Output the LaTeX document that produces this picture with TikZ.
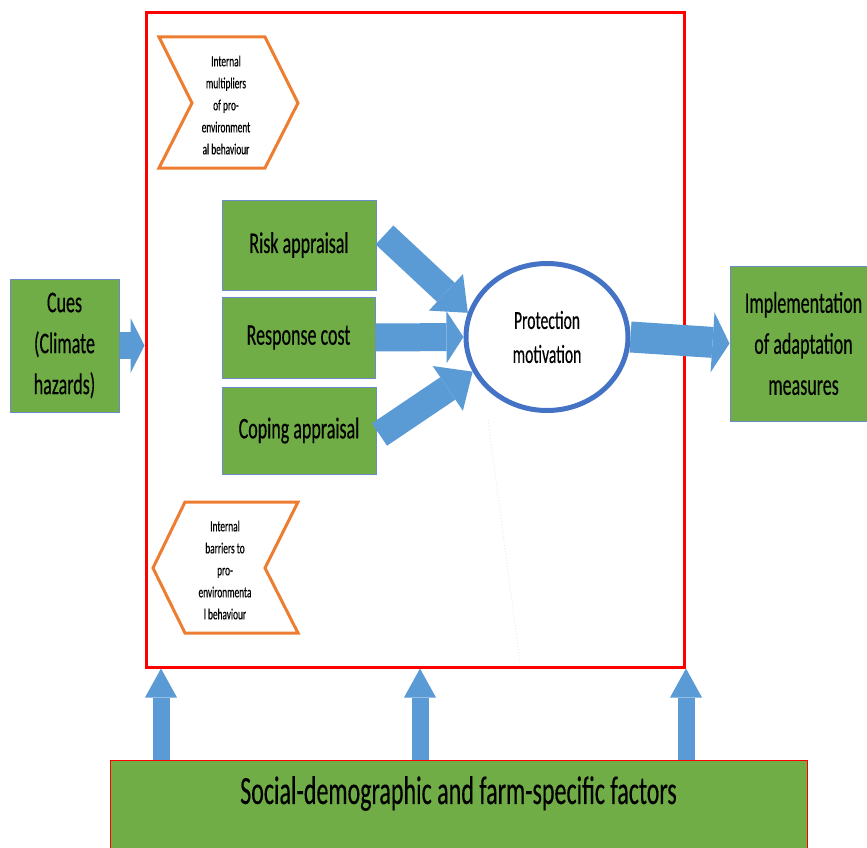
\documentclass[tikz,border=0pt]{standalone}
\usepackage{fontspec}
\setmainfont{Carlito}[FakeStretch=0.6,FakeBold=0.3]
\usetikzlibrary{
  arrows.meta,
  positioning,
  shapes.geometric,
  calc
}
\definecolor{boxgreen}{HTML}{70AD47}
\definecolor{boxedge}{HTML}{6A8CC8}
\definecolor{arrowblue}{HTML}{5B9BD5}
\definecolor{ringblue}{HTML}{4472C4}
\definecolor{chevorange}{HTML}{ED7D31}
\definecolor{framered}{HTML}{FF0000}

\begin{document}
\begin{tikzpicture}[
  x=1pt,
  y=-1pt,
  factor/.style={
    draw=boxedge,
    line width=1pt,
    fill=boxgreen,
    align=center,
    inner sep=0pt,
    font=\fontsize{30}{41}\selectfont
  },
  frame/.style={
    draw=framered,
    line width=3pt,
    inner sep=0pt,
    minimum width=538pt,
    minimum height=654pt
  },
  chevron/.style={
    draw=chevorange,
    line width=3pt,
    fill=white
  },
  smallnote/.style={
    align=center,
    inner sep=0pt,
    font=\fontsize{15.5}{22}\selectfont
  },
  motive/.style={
    ellipse,
    draw=ringblue,
    line width=5pt,
    fill=white,
    align=center,
    inner sep=0pt,
    minimum width=162pt,
    minimum height=147pt,
    font=\fontsize{26}{34}\selectfont
  },
  fatarrow/.style n args={3}{
    draw=arrowblue,
    line width=#1,
    -{Triangle[width=#2,length=#3,line width=0pt]}
  }
]
\useasboundingbox (0,0) rectangle (867,848);
\clip (0,0) rectangle (867,848);

% outer frame and its inputs
\node[frame] (frame) at (415,340) {};
\node[factor,minimum width=109pt,minimum height=133pt] (cues)
  at (64.5,345.5) {Cues\\(Climate\\hazards)};
\node[factor,minimum width=147pt,minimum height=155pt] (impl)
  at (803.5,343.5) {Implementation\\of adaptation\\measures};
\node[factor,draw=framered,minimum width=697pt,minimum height=100pt] (factors)
  at (458.5,810) {};
\node[factor,draw=none,fill=none,font=\fontsize{40}{48}\selectfont] (factorstext)
  at ($(factors.north)+(0,34)$) {Social-demographic and farm-specific factors};

% appraisals
\node[factor,minimum width=154pt,minimum height=90pt] (risk)
  at (299,245) {Risk appraisal};
\node[factor,minimum width=153pt,minimum height=81pt] (response)
  at (298.5,337.5) {Response cost};
\node[factor,minimum width=154pt,minimum height=87pt] (coping)
  at (299,430.5) {Coping appraisal};

% chevrons
\draw[chevron] (159,37) -- (265,37) -- (298,103) -- (265,168)
  -- (159,168) -- (192,103) -- cycle;
\node[smallnote] (multipliers) at (226,105)
  {Internal\\multipliers\\of pro-\\environment\\al behaviour};
\draw[chevron] (185,502) -- (298,502) -- (265,568) -- (298,633)
  -- (185,633) -- (153,568) -- cycle;
\node[smallnote] (barriers) at (225,570)
  {Internal\\barriers to\\pro-\\environmenta\\l behaviour};

% faint trace below the ellipse
\coordinate (tracetop) at (488,420);
\coordinate (tracebottom) at (520,662);
\draw[gray!15,dotted,line width=1pt] (tracetop) -- (tracebottom);

\node[motive] (pm) at (547,337) {Protection\\motivation};

% block arrows
\draw[fatarrow={27pt}{55pt}{14pt}] (cues.east) -- (cues.east -| frame.west);
\draw[fatarrow={26pt}{50pt}{30pt}] ($(risk.east)+(8,-10)$) -- (pm.163);
\draw[fatarrow={28pt}{52pt}{17pt}] (response.east) -- (pm.west);
\draw[fatarrow={27pt}{54pt}{30pt}] ($(coping.east)+(3,4)$) -- (pm.205);
\draw[fatarrow={31pt}{60pt}{17pt}] (pm.east) -- (impl.west);
\foreach \x in {161,420,686}
  \draw[fatarrow={17pt}{32pt}{29pt}]
    (\x,0 |- factors.north) -- (\x,0 |- frame.south);

\end{tikzpicture}
\end{document}
